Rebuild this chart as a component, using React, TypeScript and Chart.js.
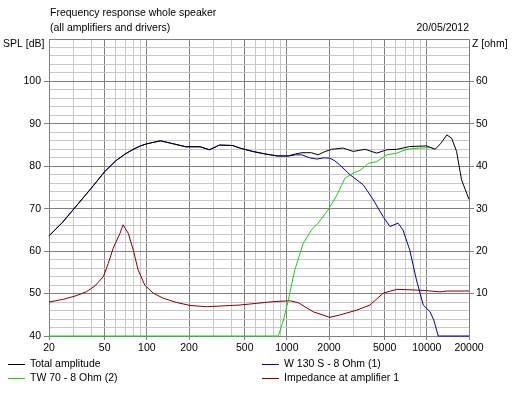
import React, { useEffect, useRef } from "react";
import { Chart, registerables } from "chart.js";

Chart.register(...registerables);

const xGridValues = [20, 30, 40, 50, 60, 70, 80, 90, 100, 200, 300, 400, 500, 600, 700, 800, 900, 1000, 2000, 3000, 4000, 5000, 6000, 7000, 8000, 9000, 10000, 20000];
const xLabelValues = [20, 50, 100, 200, 500, 1000, 2000, 5000, 10000, 20000];
const splLabelValues = [40, 50, 60, 70, 80, 90, 100];
const ohmLabelValues = [10, 20, 30, 40, 50, 60];

const totalFreq = [20, 25, 30, 40, 50, 60, 70, 80, 90, 100, 125, 150, 190, 240, 280, 330, 410, 460, 570, 700, 850, 1025, 1150, 1280, 1500, 1670, 1850, 2080, 2520, 2980, 3620, 4380, 5180, 6100, 7540, 9960, 11460, 12500, 13900, 15050, 16300, 17700, 20000];
const totalSpl = [63.6, 66.8, 69.9, 74.8, 78.75, 81.3, 82.9, 84.0, 84.8, 85.3, 86.0, 85.4, 84.6, 84.6, 83.9, 85.0, 84.9, 84.3, 83.5, 82.9, 82.45, 82.45, 82.9, 83.2, 83.2, 82.7, 83.4, 84.0, 84.3, 83.5, 84.0, 83.1, 83.9, 84.0, 84.65, 84.8, 84.0, 85.3, 87.4, 86.6, 83.5, 76.8, 72.2];

const wooferFreq = [20, 25, 30, 40, 50, 60, 70, 80, 90, 100, 125, 150, 190, 240, 280, 330, 410, 460, 570, 700, 850, 1025, 1150, 1280, 1450, 1638, 1850, 2026, 2200, 2390, 2830, 3520, 4140, 4880, 5450, 6230, 6750, 7540, 8430, 9420, 10540, 11200, 12060, 20000];
const wooferSpl = [63.6, 66.8, 69.9, 74.8, 78.75, 81.3, 82.9, 84.0, 84.8, 85.3, 86.0, 85.4, 84.6, 84.6, 83.9, 85.0, 84.9, 84.3, 83.5, 82.9, 82.45, 82.4, 82.7, 82.7, 82.0, 81.7, 82.0, 81.9, 81.3, 80.3, 78.0, 75.6, 72.1, 68.1, 65.8, 66.6, 65.0, 60.3, 53.2, 47.3, 45.7, 43.8, 40, 40];

const tweeterFreq = [20, 870, 950, 1025, 1140, 1310, 1500, 1670, 1970, 2280, 2600, 2980, 3400, 3820, 4380, 5180, 6100, 7160, 8900, 10800, 11460];
const tweeterSpl = [40, 40, 44, 48.5, 55.6, 61.9, 65.0, 66.6, 69.7, 73.25, 77.2, 78.4, 79.2, 80.7, 81.1, 82.7, 83.1, 84.0, 84.3, 84.4, 84.0];

const impFreq = [20, 25.3, 30.6, 37.1, 42.6, 48.9, 53, 57.5, 64.3, 67.6, 73.7, 79.9, 86.6, 96.6, 111, 131, 163, 203, 267, 350, 462, 610, 802, 1054, 1204, 1544, 2026, 2390, 3160, 3920, 4880, 6100, 8020, 9960, 12380, 13900, 20000];
const impOhm = [8.0, 8.65, 9.4, 10.45, 11.8, 14.0, 17.1, 20.7, 24.2, 26.2, 24.2, 20.3, 15.6, 12.0, 10.1, 8.9, 7.9, 7.2, 6.9, 7.1, 7.3, 7.7, 8.1, 8.3, 7.85, 5.7, 4.4, 4.95, 6.1, 7.3, 10.1, 11.0, 10.85, 10.7, 10.4, 10.6, 10.6];

const titleLines = ["Frequency response whole speaker", "(all amplifiers and drivers)"];
const dateText = "20/05/2012";
const leftTitle = "SPL [dB]";
const rightTitle = "Z [ohm]";
const seriesNames = ["Total amplitude", "W 130 S - 8 Ohm (1)", "TW 70 - 8 Ohm (2)", "Impedance at amplifier 1"];
const seriesColors = ["#000000", "#0000b4", "#22c822", "#800000"];

const FAMILY = '"Liberation Sans", Arial, sans-serif';
const FONT = "10.5px " + FAMILY;
const MAJOR = "#808080";
const MINOR = "#c8c8c8";
const NONE = "rgba(0,0,0,0)";

const pts = (xs: number[], ys: number[]) => xs.map((x, i) => ({ x, y: ys[i] }));

const textPlugin = {
  id: "texts",
  afterDraw(chart: any) {
    const ctx = chart.ctx;
    ctx.save();
    ctx.font = FONT;
    ctx.fillStyle = "#000";
    ctx.textBaseline = "middle";
    ctx.textAlign = "left";
    ctx.fillText(titleLines[0], 50, 13);
    ctx.fillText(titleLines[1], 50, 28);
    ctx.fillText(leftTitle, 3, 44);
    ctx.fillText(rightTitle, 472, 44);
    ctx.textAlign = "right";
    ctx.fillText(dateText, 469, 28);
    ctx.textAlign = "left";
    const legendPos = [
      [8, 364],
      [262, 364],
      [8, 378],
      [262, 378],
    ];
    legendPos.forEach(([lx, ly], i) => {
      ctx.strokeStyle = seriesColors[i];
      ctx.lineWidth = 1;
      ctx.beginPath();
      ctx.moveTo(lx, ly + 0.5);
      ctx.lineTo(lx + 17, ly + 0.5);
      ctx.stroke();
      ctx.fillText(seriesNames[i], lx + 22, ly);
    });
    ctx.restore();
  },
};

export default function App() {
  const canvasRef = useRef<HTMLCanvasElement | null>(null);

  useEffect(() => {
    document.body.style.margin = "0";
    const canvas = canvasRef.current;
    if (!canvas) return;
    const lineDs = (label: string, data: any[], color: string, order: number, yAxisID = "y") => ({
      label,
      data,
      borderColor: color,
      backgroundColor: color,
      borderWidth: 1,
      pointRadius: 0,
      tension: 0,
      fill: false,
      order,
      yAxisID,
      clip: 2,
    });
    const tickFont = { family: FAMILY, size: 10.5 };
    const chart = new Chart(canvas, {
      type: "line",
      data: {
        datasets: [
          lineDs(seriesNames[0], pts(totalFreq, totalSpl), seriesColors[0], 0),
          lineDs(seriesNames[1], pts(wooferFreq, wooferSpl), seriesColors[1], 2),
          lineDs(seriesNames[2], pts(tweeterFreq, tweeterSpl), seriesColors[2], 1),
          lineDs(seriesNames[3], pts(impFreq, impOhm), seriesColors[3], 3, "y2"),
        ],
      },
      options: {
        responsive: false,
        animation: false,
        devicePixelRatio: 1,
        layout: { padding: { top: 39, left: 0, right: 0, bottom: 0 } },
        plugins: { legend: { display: false }, tooltip: { enabled: false } },
        scales: {
          x: {
            type: "logarithmic",
            position: "bottom",
            min: 20,
            max: 20000,
            afterBuildTicks: (axis: any) => {
              axis.ticks = xGridValues.map((v) => ({ value: v }));
            },
            afterFit: (axis: any) => {
              axis.height = 57;
            },
            ticks: {
              autoSkip: false,
              maxRotation: 0,
              minRotation: 0,
              padding: 2,
              color: "#000",
              font: tickFont,
              callback: (v: any) => (xLabelValues.includes(Number(v)) ? String(v) : ""),
            },
            grid: {
              color: (c: any) => (xLabelValues.includes(c.tick?.value) ? MAJOR : MINOR),
              tickColor: (c: any) => (xLabelValues.includes(c.tick?.value) ? MAJOR : NONE),
              tickLength: 4,
            },
            border: { color: MAJOR },
          },
          y: {
            type: "linear",
            position: "left",
            min: 40,
            max: 110,
            afterBuildTicks: (axis: any) => {
              const t = [];
              for (let v = 40; v <= 110; v += 2) t.push({ value: v });
              axis.ticks = t;
            },
            afterFit: (axis: any) => {
              axis.width = 49;
            },
            ticks: {
              autoSkip: false,
              padding: 3,
              color: "#000",
              font: tickFont,
              callback: (v: any) => (splLabelValues.includes(Number(v)) ? String(v) : ""),
            },
            grid: {
              color: (c: any) => (c.tick && c.tick.value % 10 === 0 ? MAJOR : MINOR),
              tickColor: (c: any) => (c.tick && splLabelValues.includes(c.tick.value) ? MAJOR : NONE),
              tickLength: 5,
            },
            border: { color: MAJOR },
          },
          y2: {
            type: "linear",
            position: "right",
            min: 0,
            max: 70,
            afterBuildTicks: (axis: any) => {
              const t = [];
              for (let v = 0; v <= 70; v += 10) t.push({ value: v });
              axis.ticks = t;
            },
            afterFit: (axis: any) => {
              axis.width = 45;
            },
            ticks: {
              autoSkip: false,
              padding: 2,
              color: "#000",
              font: tickFont,
              callback: (v: any) => (ohmLabelValues.includes(Number(v)) ? String(v) : ""),
            },
            grid: {
              drawOnChartArea: false,
              color: MAJOR,
              tickColor: (c: any) => (c.tick && ohmLabelValues.includes(c.tick.value) ? MAJOR : NONE),
              tickLength: 5,
            },
            border: { color: MAJOR },
          },
        },
      },
      plugins: [textPlugin],
    } as any);
    return () => chart.destroy();
  }, []);

  return (
    <div style={{ position: "absolute", left: 0, top: 0, width: 514, height: 393, background: "#fff" }}>
      <canvas ref={canvasRef} width={514} height={393} style={{ display: "block", width: 514, height: 393 }} />
    </div>
  );
}
